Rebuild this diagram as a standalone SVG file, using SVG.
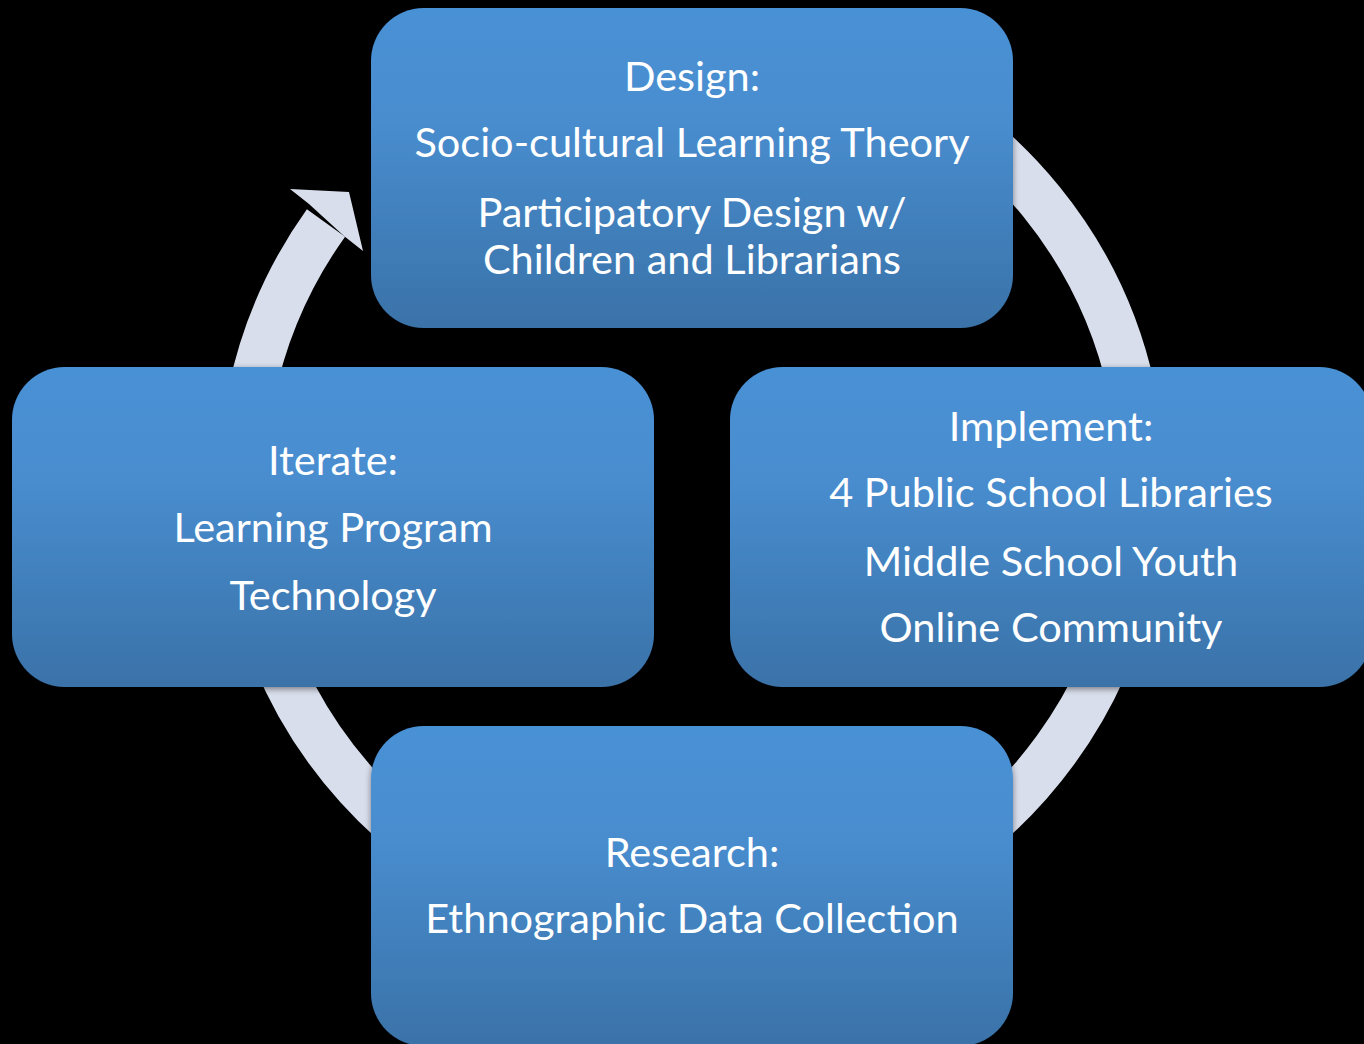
<svg xmlns="http://www.w3.org/2000/svg" width="1364" height="1044" viewBox="0 0 1364 1044">
  <defs>
    <linearGradient id="boxGrad" x1="0" y1="0" x2="0" y2="1">
      <stop offset="0" stop-color="#4A91D5"/>
      <stop offset="0.35" stop-color="#488DCF"/>
      <stop offset="1" stop-color="#3A72A8"/>
    </linearGradient>
    <filter id="shadow" x="-5%" y="-5%" width="110%" height="115%">
      <feDropShadow dx="0" dy="2" stdDeviation="3" flood-color="#000" flood-opacity="0.45"/>
    </filter>
    <style>
      .box { fill: url(#boxGrad); filter: url(#shadow); }
      .lbl { fill: #FFFFFF; font-family: Lato, "Open Sans", "Liberation Sans", sans-serif; font-size: 41.5px; text-anchor: middle; }
      .ring { fill: none; stroke: #D9DEEC; stroke-width: 47; }
      .head { fill: #D9DEEC; }
    </style>
  </defs>
  <rect x="0" y="0" width="1364" height="1044" fill="#000000"/>

  <g id="connectors">
    <path class="ring" d="M 692 35 A 450 450 0 1 1 326 223"/>
    <polygon class="head" points="290,189 349,192 363,251 344,236 309,204"/>
  </g>

  <g id="node-design">
    <rect class="box" x="371" y="8" width="642" height="320" rx="53" ry="53"/>
    <text class="lbl" x="692" y="91">Design:</text>
    <text class="lbl" x="692" y="157">Socio-cultural Learning Theory</text>
    <text class="lbl" x="692" y="227">Participatory Design w/</text>
    <text class="lbl" x="692" y="274">Children and Librarians</text>
  </g>

  <g id="node-implement">
    <rect class="box" x="730" y="367" width="642" height="320" rx="53" ry="53"/>
    <text class="lbl" x="1051" y="441">Implement:</text>
    <text class="lbl" x="1051" y="507">4 Public School Libraries</text>
    <text class="lbl" x="1051" y="576">Middle School Youth</text>
    <text class="lbl" x="1051" y="642">Online Community</text>
  </g>

  <g id="node-research">
    <rect class="box" x="371" y="726" width="642" height="320" rx="53" ry="53"/>
    <text class="lbl" x="692" y="867">Research:</text>
    <text class="lbl" x="692" y="933">Ethnographic Data Collection</text>
  </g>

  <g id="node-iterate">
    <rect class="box" x="12" y="367" width="642" height="320" rx="53" ry="53"/>
    <text class="lbl" x="333" y="475">Iterate:</text>
    <text class="lbl" x="333" y="542">Learning Program</text>
    <text class="lbl" x="333" y="610">Technology</text>
  </g>
</svg>
